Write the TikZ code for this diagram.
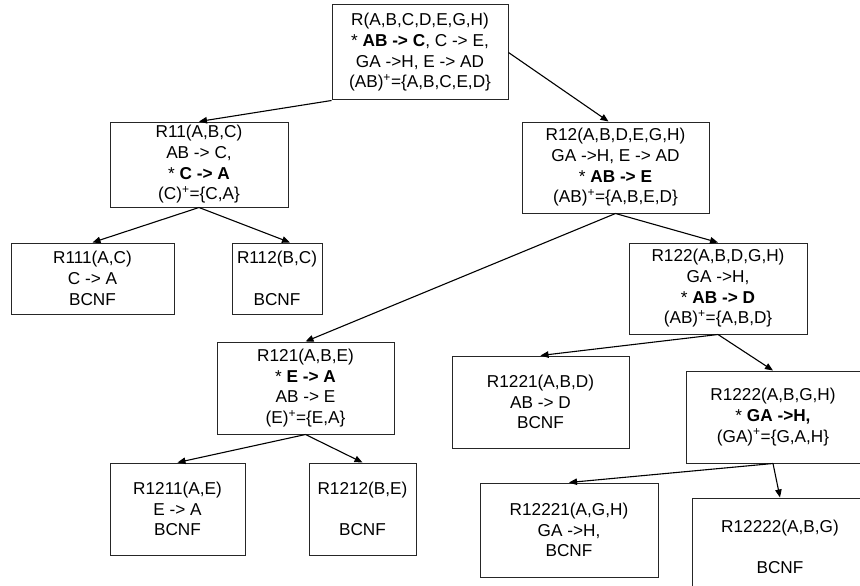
\documentclass[tikz,border=0pt]{standalone}
\usepackage{fontspec}
\setmainfont{Liberation Sans}
\usetikzlibrary{arrows.meta,calc}
\begin{document}
\begin{tikzpicture}[x=1pt,y=-1pt,
  box/.style={draw=black!85, line width=1pt, align=center, inner sep=0pt,
    font=\fontsize{17.2}{20.7}\selectfont},
  conn/.style={line width=1.1pt, -{Triangle[length=8pt,width=6.5pt]}}]
\useasboundingbox (0,0) rectangle (860,586);
\clip (0,0) rectangle (860,586);
\node[box, minimum width=176pt, minimum height=95pt] (root) at (420,52.5)
  {R(A,B,C,D,E,G,H)\\* \textbf{AB -> C}, C -> E,\\GA ->H, E -> AD\\(AB)\textsuperscript{+}=\{A,B,C,E,D\}};
\node[box, minimum width=178pt, minimum height=85pt] (r11) at (199,164.5)
  {R11(A,B,C)\\AB -> C,\\* \textbf{C -> A}\\(C)\textsuperscript{+}=\{C,A\}};
\node[box, minimum width=187pt, minimum height=91pt] (r12) at (615.5,167.5)
  {R12(A,B,D,E,G,H)\\GA ->H, E -> AD\\* \textbf{AB -> E}\\(AB)\textsuperscript{+}=\{A,B,E,D\}};
\node[box, minimum width=163pt, minimum height=71pt] (r111) at (92.5,278.5)
  {R111(A,C)\\C -> A\\BCNF};
\node[box, minimum width=90pt, minimum height=71pt] (r112) at (277,278.5)
  {R112(B,C)\\\mbox{}\\BCNF};
\node[box, minimum width=178pt, minimum height=91pt] (r122) at (718,288.5)
  {R122(A,B,D,G,H)\\GA ->H,\\* \textbf{AB -> D}\\(AB)\textsuperscript{+}=\{A,B,D\}};
\node[box, minimum width=177pt, minimum height=92pt] (r121) at (305.5,388)
  {R121(A,B,E)\\* \textbf{E -> A}\\AB -> E\\(E)\textsuperscript{+}=\{E,A\}};
\node[box, minimum width=177pt, minimum height=92pt] (r1221) at (540.5,402)
  {R1221(A,B,D)\\AB -> D\\BCNF};
\node[box, minimum width=174pt, minimum height=92pt] (r1222) at (773,417)
  {R1222(A,B,G,H)\\* \textbf{GA ->H,}\\(GA)\textsuperscript{+}=\{G,A,H\}};
\node[box, minimum width=135pt, minimum height=92pt] (r1211) at (177.5,509)
  {R1211(A,E)\\E -> A\\BCNF};
\node[box, minimum width=107pt, minimum height=92pt] (r1212) at (362.5,509)
  {R1212(B,E)\\\mbox{}\\BCNF};
\node[box, minimum width=178pt, minimum height=94pt] (r12221) at (569,530)
  {R12221(A,G,H)\\GA ->H,\\BCNF};
\node[box, minimum width=176pt, minimum height=98pt] (r12222) at (780,547)
  {R12222(A,B,G)\\\mbox{}\\BCNF};
\draw[conn] (root.south west) -- (r11.north);
\draw[conn] (root.east) -- ($(r12.north)+(-7,0)$);
\draw[conn] (r11.south) -- (r111.north);
\draw[conn] (r11.south) -- ($(r112.north)+(13,0)$);
\draw[conn] (r12.south) -- (r121.north);
\draw[conn] (r12.south) -- (r122.north);
\draw[conn] (r121.south) -- (r1211.north);
\draw[conn] (r121.south) -- (r1212.north);
\draw[conn] (r122.south) -- (r1221.north);
\draw[conn] (r122.south) -- (r1222.north);
\draw[conn] (r1222.south) -- (r12221.north);
\draw[conn] (r1222.south) -- (r12222.north);
\end{tikzpicture}
\end{document}
